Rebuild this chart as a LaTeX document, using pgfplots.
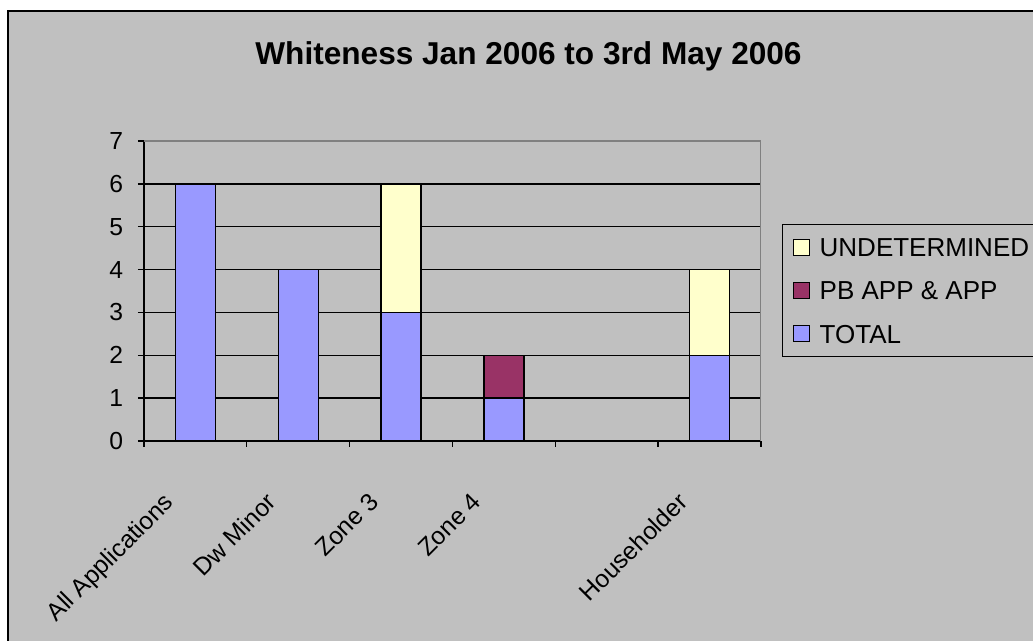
\documentclass[border=0pt]{standalone}
\usepackage{fontspec}
\setmainfont{Liberation Sans}
\usepackage{pgfplots}
\pgfplotsset{compat=1.18}
\definecolor{bg}{HTML}{C0C0C0}
\definecolor{tot}{HTML}{9999FF}
\definecolor{pb}{HTML}{993366}
\definecolor{und}{HTML}{FFFFCC}
\definecolor{frm}{HTML}{808080}
\begin{document}
\begin{tikzpicture}[x=0.75pt,y=0.75pt]
\useasboundingbox (0,0) rectangle (1033,641);
\clip (0,0) rectangle (1033,641);
\fill[white] (0,0) rectangle (1033,641);
\fill[bg] (8,-10) rectangle (1050,630);
\draw[line width=1.5pt] (8,-10) -- (8,630) -- (1050,630);
\node[anchor=base, font=\fontsize{23.7}{28}\selectfont\bfseries] at (528.5,576) {Whiteness Jan 2006 to 3rd May 2006};
\begin{axis}[
  at={(108pt,150pt)}, anchor=south west,
  scale only axis, width=462.75pt, height=225pt,
  ybar stacked, bar width=30pt,
  xmin=-0.5, xmax=5.5, ymin=0, ymax=7,
  xtick={-0.5,0.5,1.5,2.5,3.5,4.5,5.5},
  x tick label as interval,
  xticklabels={All Applications, Dw Minor, Zone 3, Zone 4, {}, Householder},
  ytick={0,1,...,7},
  ymajorgrids, grid style={black, line width=1pt},
  axis x line*=bottom, axis y line*=left,
  axis line style={black, line width=1.2pt, -},
  tick align=outside, major tick length=4.5pt,
  tick style={black, line width=1pt},
  /pgf/number format/assume math mode=true,
  yticklabel style={font=\fontsize{18.5}{22}\selectfont, inner sep=0pt, anchor=east, xshift=-11pt},
  xticklabel style={font=\fontsize{18.5}{22}\selectfont, inner sep=0pt, xshift=-25pt, yshift=-33pt, rotate=45, anchor=north east},
  legend image code/.code={\draw[#1, draw=black, line width=0.8pt] (0pt,-6pt) rectangle (12pt,6pt);},
  reverse legend,
  legend cell align=left,
  legend style={at={(1.034,0.7233)}, anchor=north west, draw=black, line width=1pt, fill=bg,
    font=\fontsize{19.5}{23}\selectfont, inner xsep=7.5pt, inner ysep=10pt, row sep=18.4pt, column sep=7.5pt,
    nodes={inner sep=0pt, text height=14pt, text depth=0pt}},
]
\addplot[fill=tot, draw=black, line width=1pt] coordinates {(0,6) (1,4) (2,3) (3,1) (4,0) (5,2)};
\addlegendentry{TOTAL}
\addplot[fill=pb, draw=black, line width=1pt] coordinates {(0,0) (1,0) (2,0) (3,1) (4,0) (5,0)};
\addlegendentry{PB APP \& APP}
\addplot[fill=und, draw=black, line width=1pt] coordinates {(0,0) (1,0) (2,3) (3,0) (4,0) (5,2)};
\addlegendentry{\makebox[170pt][l]{UNDETERMINED}}
\draw[frm, line width=1.5pt] (rel axis cs:0,1) -- (rel axis cs:1,1) -- (rel axis cs:1,0);
\end{axis}
\end{tikzpicture}
\end{document}
